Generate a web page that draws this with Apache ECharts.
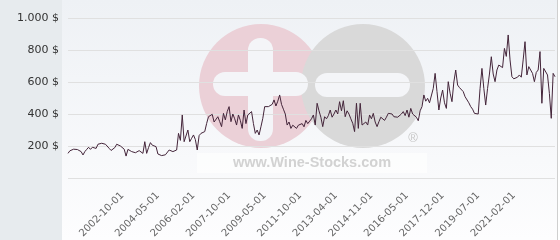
<!DOCTYPE html>
<html>
<head>
<meta charset="utf-8">
<script src="https://cdn.jsdelivr.net/npm/echarts@6/dist/echarts.min.js"></script>
<style>html,body{margin:0;padding:0;background:#fff}#c{width:560px;height:240px}</style>
</head>
<body>
<div id="c"></div>
<script>
const tickLabels = ['2002-10-01','2004-05-01','2006-02-01','2007-10-01','2009-05-01','2011-10-01','2013-04-01','2014-11-01','2016-05-01','2017-12-01','2019-07-01','2021-02-01'];
const firstTickIndex = 29;
const tickStep = 19;
const yTicks = [0, 200, 400, 600, 800, 1000];
const prices = [
154,170,181,180,181,178,182,165,144,165,
179,192,179,192,188,185,211,214,217,213,
211,211,185,172,165,190,211,200,200,200,
180,137,179,170,165,165,158,150,171,162,
154,227,154,190,221,205,196,196,150,150,
140,129,145,155,175,185,165,170,175,279,
235,394,227,238,300,227,248,269,240,175,
265,279,290,290,340,383,373,398,350,342,
383,352,321,404,363,415,446,352,400,370,
331,394,360,310,425,340,394,404,415,340,
279,300,269,320,373,446,446,446,446,460,
488,450,480,519,460,430,400,331,350,310,
330,320,310,330,320,340,320,360,340,352,
370,394,331,467,420,380,321,383,370,390,
425,380,400,425,400,477,420,483,383,420,
400,370,342,290,467,310,467,331,331,350,
331,394,370,404,350,321,352,380,370,360,
380,404,415,400,383,390,380,373,400,415,
390,425,380,435,400,410,380,358,420,446,
519,480,498,470,467,560,654,540,425,500,
550,470,435,602,530,477,600,675,581,565,
560,540,508,500,470,446,430,404,400,400,
560,685,560,456,560,650,758,650,602,675,
706,717,690,810,760,894,738,633,620,613,
630,644,630,738,852,644,696,706,654,602,
660,675,790,467,685,696,644,529,373,654,633
];

// category dates (ticks at fixed indices, monthly-ish fill between)
function ym(s){const p=s.split('-');return +p[0]*12+(+p[1]-1);}
function fmt(m,d){const y=Math.floor(m/12),mo=m%12+1;return y+'-'+String(mo).padStart(2,'0')+'-'+(d||'01');}
const categories=[];
const lastTickIndex=firstTickIndex+tickStep*(tickLabels.length-1);
for(let i=0;i<prices.length;i++){
  let m;
  if(i<firstTickIndex){m=ym(tickLabels[0])-(firstTickIndex-i);}
  else if(i>=lastTickIndex){m=ym(tickLabels[tickLabels.length-1])+(i-lastTickIndex);}
  else{const k=Math.floor((i-firstTickIndex)/tickStep),j=(i-firstTickIndex)%tickStep;
    const M=ym(tickLabels[k+1])-ym(tickLabels[k]);m=ym(tickLabels[k])+Math.round(j*M/tickStep);}
  let s=fmt(m);
  if(categories.length&&categories[categories.length-1]===s)s=fmt(m,'15');
  categories.push(s);
}

function yFmt(v){
  if(v===0)return '';
  const t=v>=1000?Math.floor(v/1000)+'.'+String(v%1000).padStart(3,'0'):String(v);
  return t+' $';
}

const chart=echarts.init(document.getElementById('c'),null,{renderer:'canvas'});
chart.setOption({
  animation:false,
  grid:{left:68,right:5,top:18,bottom:62,containLabel:false,outerBoundsMode:'none'},
  graphic:[
    {type:'rect',z:-100,silent:true,shape:{x:62,y:0,width:496,height:240},
     style:{fill:new echarts.graphic.LinearGradient(0,0,0,1,[{offset:0,color:'#eef1f5'},{offset:1,color:'#fdfdfe'}])}},
    {type:'rect',z:-100,silent:true,shape:{x:0,y:0,width:62,height:240},style:{fill:'#e7ebee'}},
    {type:'line',z:-90,silent:true,shape:{x1:557.5,y1:0,x2:557.5,y2:240},style:{stroke:'#cfcfcf',lineWidth:1}},
    {type:'circle',z:-60,silent:true,shape:{cx:261,cy:86,r:62},style:{fill:'#ebd0d7'}},
    {type:'circle',z:-59,silent:true,shape:{cx:363,cy:86,r:62},style:{fill:'#d9d9d9'}},
    {type:'rect',z:-58,silent:true,shape:{x:248,y:38,width:25,height:103,r:12},style:{fill:'#f4f5f8'}},
    {type:'rect',z:-58,silent:true,shape:{x:213,y:72,width:95,height:24,r:12},style:{fill:'#f4f5f8'}},
    {type:'rect',z:-58,silent:true,shape:{x:315,y:73,width:95,height:24,r:12},style:{fill:'#f4f5f8'}},
    {type:'text',z:-57,silent:true,x:413,y:138,style:{text:'®',fill:'#c6c6c6',font:'13px "Liberation Sans"',align:'center',verticalAlign:'middle'}},
    {type:'rect',z:-57,silent:true,shape:{x:197,y:153,width:230,height:20},style:{fill:'rgba(255,255,255,0.6)'}},
    {type:'text',z:-56,silent:true,x:312,y:163,style:{text:'www.Wine-Stocks.com',fill:'#d2d2d2',font:'bold 14.5px "Liberation Sans"',align:'center',verticalAlign:'middle'}}
  ],
  xAxis:{
    type:'category',data:categories,boundaryGap:false,
    axisLine:{show:false},axisTick:{show:false},
    axisLabel:{rotate:45,margin:16,fontSize:10,fontFamily:'DejaVu Sans',color:'#666',
      interval:function(i){return i>=firstTickIndex&&(i-firstTickIndex)%tickStep===0&&i<=lastTickIndex;}},
    splitLine:{show:false}
  },
  yAxis:{
    type:'value',min:yTicks[0],max:yTicks[yTicks.length-1],interval:200,
    axisLine:{show:false},axisTick:{show:false},
    axisLabel:{formatter:yFmt,margin:9,fontSize:11,fontFamily:'DejaVu Sans',color:'#333'},
    splitLine:{lineStyle:{color:'#e0e0e0',width:1}}
  },
  series:[{type:'line',data:prices,symbol:'none',smooth:false,
    lineStyle:{color:'#44253a',width:1}}]
});
</script>
</body>
</html>
